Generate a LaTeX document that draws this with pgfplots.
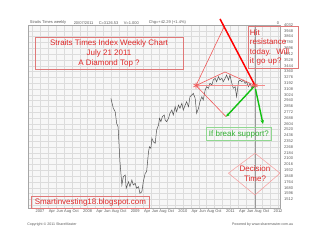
\documentclass[border=0pt]{standalone}
\usepackage{fontspec}
\setmainfont{Liberation Sans}
\usepackage{pgfplots}
\pgfplotsset{compat=1.18}
\usetikzlibrary{arrows.meta}
\definecolor{txtred}{HTML}{E02828}
\definecolor{boxred}{HTML}{E07878}
\definecolor{dline}{HTML}{F05A5A}
\definecolor{gline}{HTML}{10C010}
\definecolor{gtxt}{HTML}{30B030}
\definecolor{gbox}{HTML}{90D890}
\definecolor{gridc}{HTML}{DCDCDC}
\definecolor{series}{HTML}{505050}
\begin{document}
\begin{tikzpicture}
\useasboundingbox (0,0) rectangle (320bp,240bp);
\begin{axis}[
  at={(28bp,32bp)}, anchor=south west,
  scale only axis, width=252bp, height=183bp,
  xmin=2006.748, xmax=2012.042, ymin=1386, ymax=4032,
  clip=false,
  axis background/.style={fill=black!3},
  axis line style={black!35, line width=0.4bp},
  /pgf/number format/assume math mode=true,
  xtick={2007,2007.25,2007.4167,2007.5833,2007.75,
         2008,2008.25,2008.4167,2008.5833,2008.75,
         2009,2009.25,2009.4167,2009.5833,2009.75,
         2010,2010.25,2010.4167,2010.5833,2010.75,
         2011,2011.25,2011.4167,2011.5833,2011.75,2012},
  xticklabels={2007,Apr,Jun,Aug,Oct,2008,Apr,Jun,Aug,Oct,2009,Apr,Jun,Aug,Oct,2010,Apr,Jun,Aug,Oct,2011,Apr,Jun,Aug,Oct,2012},
  minor xtick={2006.8333,2007,2007.1667,2007.3333,2007.5,2007.6667,2007.8333,
               2008,2008.1667,2008.3333,2008.5,2008.6667,2008.8333,
               2009,2009.1667,2009.3333,2009.5,2009.6667,2009.8333,
               2010,2010.1667,2010.3333,2010.5,2010.6667,2010.8333,
               2011,2011.1667,2011.3333,2011.5,2011.6667,2011.8333,2012},
  ytick={1512,1596,1680,1764,1848,1932,2016,2100,2184,2268,2352,2436,2520,2604,2688,2772,2856,2940,3024,3108,3192,3276,3360,3444,3528,3612,3696,3780,3864,3948,4032},
  minor ytick={1428},
  yticklabel pos=right,
  ymajorgrids, yminorgrids, xminorgrids, xmajorgrids=false,
  grid style={gridc, line width=0.3bp},
  minor grid style={gridc, line width=0.3bp},
  major tick length=0pt, minor tick length=0pt,
  tick label style={font=\fontsize{4}{4.5}\selectfont, text=black!65},
  yticklabel style={/pgf/number format/1000 sep={}, inner sep=1bp, xshift=3bp},
  xticklabel style={inner sep=1.2bp},
]
% current date line
\addplot[black!40, line width=0.5bp] coordinates {(2011.517,1386) (2011.517,4032)};
% weekly closes
\addplot[series, line width=0.5bp] coordinates {
(2008.49,2972) (2008.54,2828) (2008.58,2778) (2008.61,2611) (2008.64,2561)
(2008.68,2055) (2008.72,1718) (2008.75,1838) (2008.79,1863) (2008.81,1671)
(2008.86,1766) (2008.89,1694) (2008.93,1791) (2008.96,1718) (2009.00,1743)
(2009.03,1671) (2009.07,1694) (2009.10,1598) (2009.14,1622) (2009.17,1766)
(2009.21,1888) (2009.24,1911) (2009.28,2200) (2009.30,2272) (2009.33,2249)
(2009.35,2394) (2009.38,2344) (2009.42,2321) (2009.45,2514) (2009.49,2586)
(2009.51,2683) (2009.54,2634) (2009.57,2706) (2009.61,2731) (2009.63,2658)
(2009.66,2634) (2009.70,2683) (2009.73,2755) (2009.77,2803) (2009.80,2731)
(2009.84,2851) (2009.87,2778) (2009.91,2875) (2009.94,2828) (2009.98,2900)
(2010.01,2803) (2010.05,2875) (2010.08,2923) (2010.12,2851) (2010.15,2995)
(2010.19,3020) (2010.22,3044) (2010.26,2972) (2010.29,2755) (2010.33,2828)
(2010.36,2923) (2010.40,2995) (2010.43,2947) (2010.47,3092) (2010.50,3140)
(2010.54,3117) (2010.57,3189) (2010.61,3164) (2010.64,3237) (2010.68,3261)
(2010.71,3212) (2010.75,3284) (2010.78,3237) (2010.82,3261) (2010.85,3212)
(2010.89,3261) (2010.92,3309) (2010.96,3237) (2010.99,3309) (2011.03,3189)
(2011.06,3117) (2011.10,3140) (2011.13,2995) (2011.17,3212) (2011.20,3237)
(2011.24,3212) (2011.27,3237) (2011.31,3189) (2011.34,3212) (2011.38,3140)
(2011.41,3189) (2011.45,3117) (2011.48,3164) (2011.50,3150)};
% diamond top annotation
\addplot[dline!70, line width=1.2bp] coordinates {(2010.277,3157) (2011.727,3157)};
\addplot[dline, line width=0.6bp] coordinates {(2010.908,2706) (2010.277,3157) (2010.887,3352) (2011.517,3157)};
\addplot[dline, line width=0.6bp] coordinates {(2010.277,3157) (2010.866,4003)};
\addplot[red, line width=1.5bp] coordinates {(2010.782,4119) (2011.517,3157)};
\addplot[gline, line width=1.4bp, {Stealth[length=3.5bp,width=3bp]}-] coordinates {(2010.908,2706) (2011.517,3157)};
\addplot[gline, line width=1.4bp, -{Stealth[length=4bp,width=3.5bp]}] coordinates {(2011.527,3107) (2011.685,2600)};
\addplot[only marks, mark=asterisk, mark size=3bp, dline, mark options={line width=0.6bp}] coordinates {(2010.277,3157) (2011.517,3157)};
% decision diamond
\addplot[dline!60, line width=0.5bp] coordinates {(2011.517,2177) (2010.958,1890) (2011.517,1574) (2012.042,1890) (2011.517,2177)};
\node[text=txtred, align=center, font=\fontsize{8}{9.5}\selectfont] at (axis cs:2011.517,1881) {Decision\\Time?};
% boxes
\node[draw=boxred, line width=0.5bp, text=txtred, align=center, font=\fontsize{8}{9.7}\selectfont,
      minimum width=148bp, minimum height=31.6bp, inner sep=0pt] at (axis cs:2008.450,3620)
      {Straits Times Index Weekly Chart\\July 21 2011\\A Diamond Top ?};
\node[draw=boxred, line width=0.5bp, text=txtred, align=left, font=\fontsize{8}{9.5}\selectfont,
      text width=46.6bp, inner xsep=1.7bp, inner ysep=0pt, minimum height=41.6bp] at (axis cs:2011.901,3707)
      {Hit\\resistance\\today.\ \ Will\\it go up?};
\node[draw=gbox, line width=0.5bp, text=gtxt, font=\fontsize{8}{9}\selectfont,
      minimum width=65.7bp, minimum height=13.4bp, inner sep=0pt] at (axis cs:2011.178,2456) {If break support?};
\node[draw=boxred, line width=0.5bp, text=txtred, font=\fontsize{8}{9}\selectfont,
      minimum width=117.3bp, minimum height=12.3bp, inner sep=0pt] at (axis cs:2008.058,1470) {Smartinvesting18.blogspot.com};
% header and footer texts
\node[anchor=south west, inner sep=0.6bp, font=\fontsize{4}{4.5}\selectfont, text=black!65] at (axis cs:2006.77,4032) {Straits Times weekly};
\node[anchor=south west, inner sep=0.6bp, font=\fontsize{4}{4.5}\selectfont, text=black!65] at (axis cs:2007.693,4032) {20/07/2011};
\node[anchor=south west, inner sep=0.6bp, font=\fontsize{4}{4.5}\selectfont, text=black!65] at (axis cs:2008.218,4032) {C=3126.53};
\node[anchor=south west, inner sep=0.6bp, font=\fontsize{4}{4.5}\selectfont, text=black!65] at (axis cs:2008.744,4032) {V=1.000};
\node[anchor=south west, inner sep=0.6bp, font=\fontsize{4}{4.5}\selectfont, text=black!65] at (axis cs:2009.269,4032) {Chg=+42.29 (+1.4\%)};
\node[anchor=south east, inner sep=0.6bp, font=\fontsize{4}{4.5}\selectfont, text=black!65] at (axis cs:2012.042,4032) {0};
\node[anchor=north west, inner sep=0pt, font=\fontsize{3.6}{4}\selectfont, text=black!65] at (axis cs:2006.73,1172) {Copyright \textcopyright\ 2011 ShareMaster};
\node[anchor=north east, inner sep=0pt, font=\fontsize{3.6}{4}\selectfont, text=black!65] at (axis cs:2012.32,1172) {Powered by www.sharemaster.com.au};
\end{axis}
\end{tikzpicture}
\end{document}
